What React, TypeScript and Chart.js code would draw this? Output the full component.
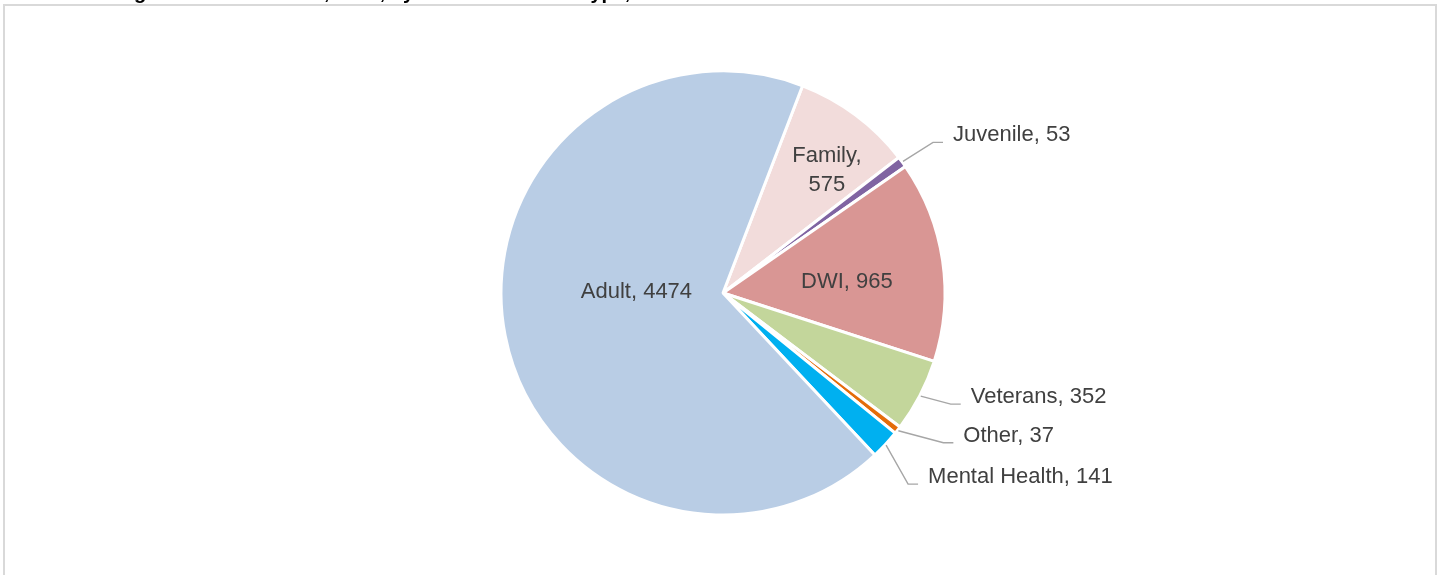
import React, { useEffect, useRef } from "react";
import { Chart, registerables } from "chart.js";

Chart.register(...registerables);

const categories = ["Family", "Juvenile", "DWI", "Veterans", "Other", "Mental Health", "Adult"];
const values = [575, 53, 965, 352, 37, 141, 4474];
const colors = ["#F2DCDB", "#8064A2", "#D99694", "#C3D69B", "#E46C0A", "#00B0F0", "#B9CDE5"];
const titleText = "Exhibit 3: Drug Court Admissions, 2019, by Treatment Court Type, 2019";

type Placement =
  | { kind: "inside"; frac: number; dAngle: number; twoLines?: boolean }
  | { kind: "outside"; dx: number; dy: number };

const labelPlacement: Placement[] = [
  { kind: "inside", frac: 0.725, dAngle: 3.5, twoLines: true },
  { kind: "outside", dx: 30, dy: -19 },
  { kind: "inside", frac: 0.56, dAngle: 3.4 },
  { kind: "outside", dx: 30, dy: 8 },
  { kind: "outside", dx: 45, dy: 12 },
  { kind: "outside", dx: 22, dy: 39 },
  { kind: "inside", frac: 0.39, dAngle: 11.8 },
];

const labelPlugin = {
  id: "pieLabels",
  afterDatasetsDraw(chart: any) {
    const ctx = chart.ctx as CanvasRenderingContext2D;
    const meta = chart.getDatasetMeta(0);
    ctx.save();
    ctx.font = "22px 'Liberation Sans', Arial, sans-serif";
    ctx.fillStyle = "#404040";
    meta.data.forEach((arc: any, i: number) => {
      const { x, y, startAngle, endAngle, outerRadius } = arc.getProps(
        ["x", "y", "startAngle", "endAngle", "outerRadius"],
        true
      );
      const mid = (startAngle + endAngle) / 2;
      const p = labelPlacement[i];
      const text = `${categories[i]}, ${values[i]}`;
      if (p.kind === "inside") {
        const a = mid + (p.dAngle * Math.PI) / 180;
        const r = outerRadius * p.frac;
        const lx = x + r * Math.cos(a);
        const ly = y + r * Math.sin(a);
        ctx.textAlign = "center";
        ctx.textBaseline = "middle";
        if (p.twoLines) {
          ctx.fillText(categories[i] + ",", lx, ly - 14.5);
          ctx.fillText(String(values[i]), lx, ly + 14.5);
        } else {
          ctx.fillText(text, lx, ly);
        }
      } else {
        const ex = x + (outerRadius + 1) * Math.cos(mid);
        const ey = y + (outerRadius + 1) * Math.sin(mid);
        const px = ex + p.dx;
        const py = ey + p.dy;
        ctx.strokeStyle = "#A6A6A6";
        ctx.lineWidth = 1.4;
        ctx.beginPath();
        ctx.moveTo(ex, ey);
        ctx.lineTo(px, py);
        ctx.lineTo(px + 10, py);
        ctx.stroke();
        ctx.textAlign = "left";
        ctx.textBaseline = "middle";
        ctx.fillText(text, px + 20, py - 7);
      }
    });
    // cut-off title at top
    ctx.font = "bold 20px 'Liberation Sans', Arial, sans-serif";
    ctx.fillStyle = "#000000";
    ctx.textAlign = "left";
    ctx.textBaseline = "alphabetic";
    ctx.fillText(titleText, 4, -1);
    ctx.restore();
  },
};

export default function App() {
  const canvasRef = useRef<HTMLCanvasElement | null>(null);

  useEffect(() => {
    if (!canvasRef.current) return;
    const chart = new Chart(canvasRef.current, {
      type: "pie",
      data: {
        labels: categories,
        datasets: [
          {
            data: values,
            backgroundColor: colors,
            borderColor: "#FFFFFF",
            borderWidth: 3,
            radius: 222,
            hoverOffset: 0,
          },
        ],
      },
      options: {
        responsive: false,
        animation: false,
        rotation: 21,
        layout: { padding: { left: 6, right: 0, top: 71, bottom: 60 } },
        plugins: {
          legend: { display: false },
          tooltip: { enabled: false },
          title: { display: false },
        },
        events: [],
      },
      plugins: [labelPlugin],
    });
    return () => chart.destroy();
  }, []);

  return (
    <div
      style={{
        position: "absolute",
        left: 0,
        top: 0,
        width: 1440,
        height: 575,
        overflow: "hidden",
        background: "#FFFFFF",
      }}
    >
      <div
        style={{
          position: "absolute",
          left: 3,
          top: 4,
          width: 1430,
          height: 620,
          border: "2px solid #D9D9D9",
        }}
      />
      <canvas
        ref={canvasRef}
        width={1440}
        height={575}
        style={{ position: "absolute", left: 0, top: 0, width: 1440, height: 575 }}
      />
    </div>
  );
}
